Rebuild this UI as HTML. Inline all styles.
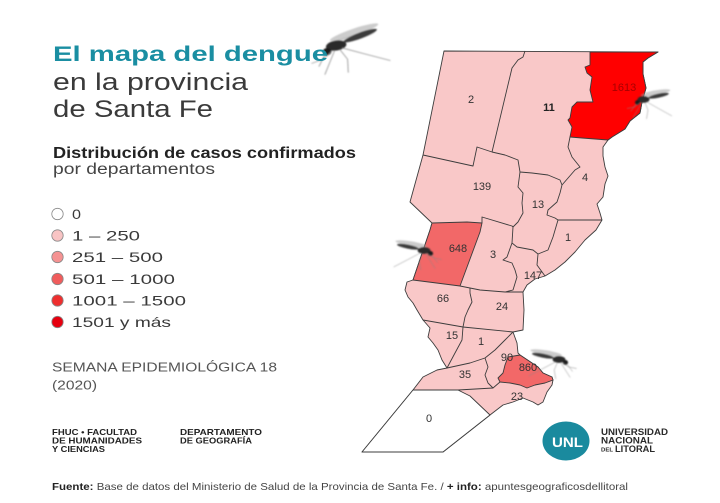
<!DOCTYPE html>
<html>
<head>
<meta charset="utf-8">
<style>
  html,body{margin:0;padding:0;background:#fff;}
  svg{display:block;}
  text{font-family:"Liberation Sans",sans-serif;}
</style>
</head>
<body>
<svg width="720" height="503" viewBox="0 0 720 503" xmlns="http://www.w3.org/2000/svg">
  <defs>
    <filter id="blur" x="-20%" y="-20%" width="140%" height="140%">
      <feGaussianBlur stdDeviation="0.7"/>
    </filter>
    <g id="mq">
      <ellipse cx="26" cy="-11" rx="20" ry="3.2" transform="rotate(-10 26 -11)" fill="#9a9a9a" opacity="0.5"/>
      <ellipse cx="24" cy="-6" rx="18" ry="2.6" transform="rotate(-6 24 -6)" fill="#b0b0b0" opacity="0.45"/>
      <ellipse cx="10" cy="-2" rx="8" ry="4.5" fill="#2a2a2a"/>
      <ellipse cx="30" cy="-7" rx="14" ry="2.6" transform="rotate(-12 30 -7)" fill="#3a3a3a"/>
      <circle cx="2" cy="2" r="3.3" fill="#1e1e1e"/>
      <g stroke="#888" stroke-width="0.6" fill="none">
        <path d="M0,4 L-7,14"/>
        <path d="M8,2 L2,12 L-4,22"/>
        <path d="M12,2 L16,12 L14,24"/>
        <path d="M14,1 L30,10 L48,20"/>
        <path d="M6,2 L-2,8 L-12,10"/>
      </g>
    </g>
  </defs>

  <rect width="720" height="503" fill="#fff"/>

  <!-- ===== MAP ===== -->
  <g stroke="#3c3c3c" stroke-width="0.9" stroke-linejoin="round">
    <path fill="#f9c8c8" d="M444,51 L658,52 L648,58 L643,62 L643,74 L646,88 L642,102 L640,113 L630,121 L625,129 L612,137 L608,140 L603,147 L603,156 L605,167 L608,176 L605,184 L603,197 L597,204 L600,213 L602,220 L596,230 L585,240 L575,252 L565,262 L555,270 L545,276 L535,279 L527,285 L523,292 L524,310 L523,330 L513,332 L517,343 L518,353 L520,355 L538,367 L543,373 L552,377 L553,380 L552,385 L547,392 L543,402 L538,405 L533,402 L523,398 L513,402 L503,405 L490,415 L443,452 L362,452 L413,390 L423,377 L437,370 L447,368 L442,360 L438,350 L433,343 L428,337 L430,328 L423,320 L417,310 L413,303 L408,297 L405,290 L407,282 L413,280 L430,230 L432,223 L410,202 L423,155 Z"/>
    <path fill="#ff0000" d="M590,52 L658,52 L648,58 L643,62 L643,74 L646,88 L642,102 L640,113 L630,121 L625,129 L612,137 L608,140 L582,138 L570,137 L572,127 L568,120 L570,118 L572,107 L577,102 L593,102 L590,90 L592,77 L587,73 L585,67 L590,65 Z"/>
    <path fill="#f26868" d="M432,223 L467,222 L482,223 L480,232 L460,286 L413,280 L430,230 Z"/>
    <path fill="#f26868" d="M505,365 L508,357 L520,355 L538,367 L543,373 L552,377 L553,380 L545,383 L535,385 L527,388 L520,385 L510,383 L500,382 L498,378 L503,373 Z"/>
    <path fill="#ffffff" d="M413,390 L458,390 L470,396 L490,415 L443,452 L362,452 Z"/>
  </g>
  <g stroke="#3c3c3c" stroke-width="0.9" fill="none" stroke-linejoin="round">
    <path d="M525,51 L523,57 L518,60 L512,68 L492,152"/>
    <path d="M423,155 L473,166 L477,147 L492,152"/>
    <path d="M492,152 L505,155 L518,160 L520,172 L532,173 L548,175 L560,180 L562,185"/>
    <path d="M570,137 L568,147 L572,157 L580,167 L575,170 L562,185"/>
    <path d="M562,185 L560,193 L557,202 L548,210 L547,215 L555,218 L558,220"/>
    <path d="M558,220 L602,220"/>
    <path d="M520,172 L518,187 L523,193 L522,203 L523,213 L518,222 L513,227"/>
    <path d="M482,223 L482,217 L512,226 L513,227"/>
    <path d="M513,227 L512,243 L517,247 L533,250 L538,254"/>
    <path d="M558,220 L553,237 L548,250 L538,254 L537,265 L545,276"/>
    <path d="M512,243 L507,257 L503,260 L512,263 L515,270 L517,277 L513,290 L505,292"/>
    <path d="M460,286 L480,290 L505,292 L523,292"/>
    <path d="M470,288 L470,293 L472,302 L468,310 L465,317 L463,327"/>
    <path d="M423,320 L463,327 L513,332"/>
    <path d="M463,327 L462,340 L455,353 L447,368"/>
    <path d="M447,368 L470,363 L485,358 L495,350 L505,340 L513,332"/>
    <path d="M485,358 L488,367 L485,375 L488,383 L493,388"/>
    <path d="M458,390 L493,388 L500,382"/>
  </g>

  <g font-size="11" fill="#333" text-anchor="middle">
    <text x="471" y="103">2</text>
    <text x="549" y="111" font-weight="bold" fill="#222">11</text>
    <text x="624" y="91" fill="#a80000">1613</text>
    <text x="482" y="190">139</text>
    <text x="538" y="208">13</text>
    <text x="585" y="181">4</text>
    <text x="568" y="241">1</text>
    <text x="458" y="252">648</text>
    <text x="493" y="258">3</text>
    <text x="533" y="279">147</text>
    <text x="443" y="302">66</text>
    <text x="502" y="310">24</text>
    <text x="452" y="339">15</text>
    <text x="481" y="345">1</text>
    <text x="507" y="361">90</text>
    <text x="528" y="371">860</text>
    <text x="465" y="378">35</text>
    <text x="517" y="400">23</text>
    <text x="429" y="422">0</text>
  </g>

  <g filter="url(#blur)">
    <use href="#mq" transform="translate(324,50) scale(1.3,1.1) rotate(-12)"/>
    <use href="#mq" transform="translate(636,101) scale(0.75)"/>
    <use href="#mq" transform="translate(432,252) scale(-0.8,0.75)"/>
    <use href="#mq" transform="translate(567,361) scale(-0.8,0.75)"/>
  </g>

  <text x="53" y="61" font-size="21" font-weight="bold" fill="#1a8ea2" textLength="275" lengthAdjust="spacingAndGlyphs">El mapa del dengue</text>
  <text x="53" y="90" font-size="24" fill="#3a3a3a" textLength="195" lengthAdjust="spacingAndGlyphs">en la provincia</text>
  <text x="53" y="117" font-size="24" fill="#3a3a3a" textLength="160" lengthAdjust="spacingAndGlyphs">de Santa Fe</text>

  <text x="53" y="158" font-size="15.5" font-weight="bold" fill="#222" textLength="303" lengthAdjust="spacingAndGlyphs">Distribución de casos confirmados</text>
  <text x="53" y="174" font-size="15.5" fill="#444" textLength="162" lengthAdjust="spacingAndGlyphs">por departamentos</text>

  <g stroke="#888" stroke-width="0.8">
    <circle cx="57.5" cy="214" r="5.7" fill="#ffffff"/>
    <circle cx="57.5" cy="235.5" r="5.7" fill="#f8c4c4"/>
    <circle cx="57.5" cy="257" r="5.7" fill="#f59292"/>
    <circle cx="57.5" cy="279" r="5.7" fill="#f05c5c"/>
    <circle cx="57.5" cy="300.5" r="5.7" fill="#ee2e2e"/>
    <circle cx="57.5" cy="322" r="5.7" fill="#e6000f"/>
  </g>
  <g font-size="14" fill="#3a3a3a">
    <text x="72" y="219" textLength="9" lengthAdjust="spacingAndGlyphs">0</text>
    <text x="72" y="240.5" textLength="68" lengthAdjust="spacingAndGlyphs">1 – 250</text>
    <text x="72" y="262" textLength="91" lengthAdjust="spacingAndGlyphs">251 – 500</text>
    <text x="72" y="284" textLength="103" lengthAdjust="spacingAndGlyphs">501 – 1000</text>
    <text x="72" y="305.5" textLength="114" lengthAdjust="spacingAndGlyphs">1001 – 1500</text>
    <text x="72" y="327" textLength="99" lengthAdjust="spacingAndGlyphs">1501 y más</text>
  </g>

  <text x="52" y="371.5" font-size="13" fill="#555" textLength="225" lengthAdjust="spacingAndGlyphs">SEMANA EPIDEMIOLÓGICA 18</text>
  <text x="52" y="389.5" font-size="13" fill="#555" textLength="45" lengthAdjust="spacingAndGlyphs">(2020)</text>

  <g font-size="8.5" font-weight="bold" fill="#222">
    <text x="52" y="435" textLength="85" lengthAdjust="spacingAndGlyphs">FHUC • FACULTAD</text>
    <text x="52" y="443.5" textLength="90" lengthAdjust="spacingAndGlyphs">DE HUMANIDADES</text>
    <text x="52" y="452" textLength="53" lengthAdjust="spacingAndGlyphs">Y CIENCIAS</text>
    <text x="180" y="435" textLength="82" lengthAdjust="spacingAndGlyphs">DEPARTAMENTO</text>
    <text x="180" y="443.5" textLength="72" lengthAdjust="spacingAndGlyphs">DE GEOGRAFÍA</text>
  </g>

  <ellipse cx="566" cy="441" rx="23.5" ry="19.5" fill="#1a8a9e"/>
  <text x="567.5" y="447" font-size="14" font-weight="bold" fill="#fff" text-anchor="middle" textLength="31" lengthAdjust="spacingAndGlyphs">UNL</text>
  <g font-weight="bold" fill="#2a2a2a">
    <text x="601" y="435" font-size="9.5" textLength="67" lengthAdjust="spacingAndGlyphs">UNIVERSIDAD</text>
    <text x="601" y="443.5" font-size="9.5" textLength="52" lengthAdjust="spacingAndGlyphs">NACIONAL</text>
    <text x="601" y="451.5" font-size="5.5" textLength="12" lengthAdjust="spacingAndGlyphs">DEL</text>
    <text x="615" y="452" font-size="9.5" textLength="40" lengthAdjust="spacingAndGlyphs">LITORAL</text>
  </g>

  <text x="52" y="490" font-size="10.5" fill="#444" textLength="576" lengthAdjust="spacingAndGlyphs"><tspan font-weight="bold" fill="#222">Fuente:</tspan> Base de datos del Ministerio de Salud de la Provincia de Santa Fe. / <tspan font-weight="bold" fill="#222">+ info:</tspan> apuntesgeograficosdellitoral</text>
</svg>
</body>
</html>
